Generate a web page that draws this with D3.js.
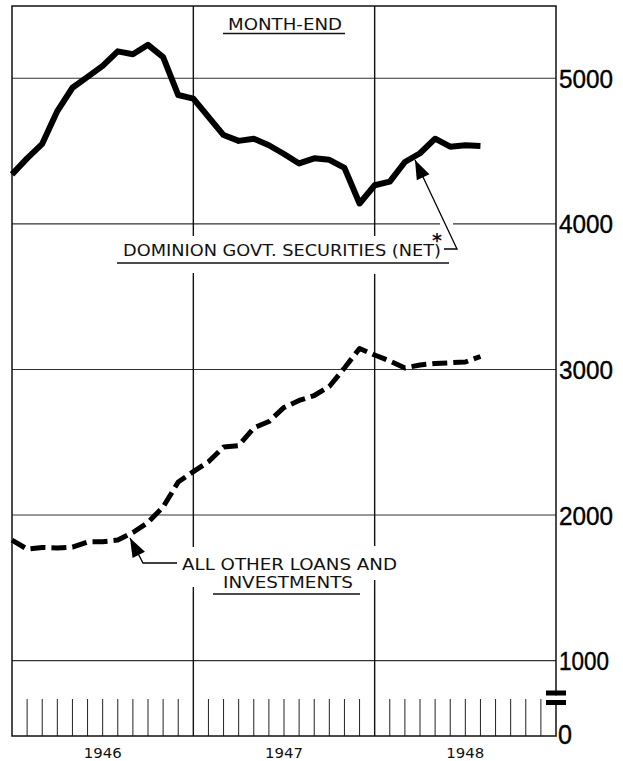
<!DOCTYPE html>
<html>
<head>
<meta charset="utf-8">
<script src="https://cdn.jsdelivr.net/npm/d3@7"></script>
<style>
  html, body { margin: 0; padding: 0; background: #fff; }
  svg { display: block; }
</style>
</head>
<body>
<div id="chart"></div>
<script>
// Chartered banks: month-end holdings, millions of dollars
const months = [
  "Dec 1945",
  "Jan 1946", "Feb 1946", "Mar 1946", "Apr 1946", "May 1946", "Jun 1946",
  "Jul 1946", "Aug 1946", "Sep 1946", "Oct 1946", "Nov 1946", "Dec 1946",
  "Jan 1947", "Feb 1947", "Mar 1947", "Apr 1947", "May 1947", "Jun 1947",
  "Jul 1947", "Aug 1947", "Sep 1947", "Oct 1947", "Nov 1947", "Dec 1947",
  "Jan 1948", "Feb 1948", "Mar 1948", "Apr 1948", "May 1948", "Jun 1948",
  "Jul 1948"
];
const govSecurities = [
  4340, 4450, 4550, 4775, 4935, 5010, 5085, 5185, 5165, 5230, 5145, 4885,
  4860, 4735, 4610, 4570, 4585, 4540, 4480, 4415, 4450, 4440, 4385, 4140,
  4265, 4290, 4425, 4485, 4585, 4530, 4540, 4535
];
const otherLoans = [
  1828, 1766, 1777, 1773, 1780, 1815, 1817, 1828, 1880, 1949, 2055, 2227,
  2298, 2366, 2467, 2477, 2598, 2642, 2739, 2787, 2821, 2883, 3010, 3144,
  3099, 3058, 3010, 3031, 3041, 3046, 3051, 3089
];
const years = ["1946", "1947", "1948"];
const yTicks = [1000, 2000, 3000, 4000, 5000];
const yTickLabels = ["1000", "2000", "3000", "4000", "5000"];

const W = 623, H = 761;
const plotL = 12, plotR = 556, plotT = 6, plotB = 736;

const svg = d3.select("#chart").append("svg")
  .attr("width", W).attr("height", H)
  .attr("viewBox", `0 0 ${W} ${H}`);

svg.append("rect").attr("width", W).attr("height", H).attr("fill", "#fff");

// month index 0 = start of 1946 (end of Dec 1945), 36 = start of 1949
const x = d3.scaleLinear().domain([0, 36]).range([plotL, plotR]);
// broken axis: 1000..5500 on a linear scale, zero pinned to the baseline
const y = d3.scaleLinear().domain([1000, 5500]).range([660.6, 5.5]);

const g = svg.append("g");

// horizontal grid
g.selectAll("line.hgrid").data(yTicks).join("line")
  .attr("class", "hgrid")
  .attr("x1", plotL).attr("x2", plotR)
  .attr("y1", d => y(d)).attr("y2", d => y(d))
  .attr("stroke", "#333").attr("stroke-width", 1.1);

// year dividers
const yearBreaks = [12, 24];
g.selectAll("line.vgrid").data(yearBreaks).join("line")
  .attr("class", "vgrid")
  .attr("x1", d => x(d)).attr("x2", d => x(d))
  .attr("y1", plotT).attr("y2", plotB)
  .attr("stroke", "#111").attr("stroke-width", 1.4);

// month ticks along the base
const monthTicks = d3.range(1, 36).filter(m => m % 12 !== 0);
g.selectAll("line.mtick").data(monthTicks).join("line")
  .attr("class", "mtick")
  .attr("x1", d => x(d)).attr("x2", d => x(d))
  .attr("y1", 699).attr("y2", plotB)
  .attr("stroke", "#222").attr("stroke-width", 1);

// knock-outs where the lettering interrupts the grid
const knock = [
  [190, 236, 8, 37], [372, 236, 8, 38],
  [190, 547, 8, 40], [372, 546, 8, 34],
  [440, 219, 13, 6]
];
g.selectAll("rect.knock").data(knock).join("rect")
  .attr("x", d => d[0]).attr("y", d => d[1])
  .attr("width", d => d[2]).attr("height", d => d[3])
  .attr("fill", "#fff");

// frame
g.append("rect")
  .attr("x", plotL).attr("y", plotT)
  .attr("width", plotR - plotL).attr("height", plotB - plotT)
  .attr("fill", "none").attr("stroke", "#111").attr("stroke-width", 1.5);

// axis break symbol on the right-hand scale
g.append("rect").attr("x", 548).attr("y", 695.5).attr("width", 16).attr("height", 4.5).attr("fill", "#fff");
g.append("rect").attr("x", 546).attr("y", 690.5).attr("width", 20).attr("height", 5).attr("fill", "#000");
g.append("rect").attr("x", 546).attr("y", 700).attr("width", 20).attr("height", 5).attr("fill", "#000");

// right-hand value labels
const valFont = "'Liberation Sans', Arial, sans-serif";
g.selectAll("text.ylab").data(yTicks).join("text")
  .attr("class", "ylab")
  .attr("x", 559).attr("y", d => y(d) + 9.5)
  .attr("font-family", valFont).attr("font-size", 26.5)
  .attr("textLength", (d, i) => yTickLabels[i].startsWith("1") ? 50 : 54)
  .attr("lengthAdjust", "spacingAndGlyphs")
  .attr("stroke", "#000").attr("stroke-width", 0.4)
  .attr("fill", "#000")
  .text((d, i) => yTickLabels[i]);
g.append("text")
  .attr("x", 558).attr("y", 744)
  .attr("font-family", valFont).attr("font-size", 28)
  .attr("textLength", 14).attr("lengthAdjust", "spacingAndGlyphs")
  .attr("stroke", "#000").attr("stroke-width", 0.4)
  .attr("fill", "#000").text("0");

// year labels
const letterFont = "'DejaVu Sans', sans-serif";
g.selectAll("text.year").data(years).join("text")
  .attr("class", "year")
  .attr("x", (d, i) => x(i * 12 + 6)).attr("y", 758)
  .attr("text-anchor", "middle")
  .attr("font-family", letterFont).attr("font-size", 14)
  .attr("textLength", 38).attr("lengthAdjust", "spacingAndGlyphs")
  .attr("fill", "#111").text(d => d);

// series lines
const line = d3.line()
  .x((d, i) => x(i))
  .y(d => y(d));

g.append("path").datum(otherLoans)
  .attr("d", line)
  .attr("fill", "none").attr("stroke", "#000")
  .attr("stroke-width", 5).attr("stroke-dasharray", "15,6")
  .attr("stroke-linejoin", "round");

g.append("path").datum(govSecurities)
  .attr("d", line)
  .attr("fill", "none").attr("stroke", "#000")
  .attr("stroke-width", 6)
  .attr("stroke-linejoin", "round");

// annotations
function arrow(tip, path) {
  const pts = [tip].concat(path);
  g.append("path")
    .attr("d", d3.line()(pts))
    .attr("fill", "none").attr("stroke", "#000").attr("stroke-width", 1.3);
  const dx = path[0][0] - tip[0], dy = path[0][1] - tip[1];
  const len = Math.hypot(dx, dy), ux = dx / len, uy = dy / len;
  const L = 19, hw = 7;
  const bx = tip[0] + ux * L, by = tip[1] + uy * L;
  g.append("path")
    .attr("d", d3.line()([tip, [bx - uy * hw, by + ux * hw], [bx + uy * hw, by - ux * hw]]) + "Z")
    .attr("fill", "#000");
}

function label(txt, cx, base, len, size) {
  g.append("text")
    .attr("x", cx).attr("y", base)
    .attr("text-anchor", "middle")
    .attr("font-family", letterFont).attr("font-size", size || 15.5)
    .attr("textLength", len).attr("lengthAdjust", "spacingAndGlyphs")
    .attr("fill", "#111").text(txt);
}
function underline(x1, x2, yy) {
  g.append("line").attr("x1", x1).attr("x2", x2).attr("y1", yy).attr("y2", yy)
    .attr("stroke", "#111").attr("stroke-width", 1.3);
}

label("MONTH-END", 285, 29.5, 114);
underline(223, 345, 33.5);

label("DOMINION GOVT. SECURITIES (NET)", 282, 256, 318);
underline(117, 449, 263);
g.append("text").attr("x", 437).attr("y", 247)
  .attr("text-anchor", "middle")
  .attr("font-family", letterFont).attr("font-size", 19).attr("font-weight", "bold")
  .attr("fill", "#111").text("*");
arrow([415, 160], [[457, 249], [444, 249]]);

label("ALL OTHER LOANS AND", 289.5, 569.5, 215);
label("INVESTMENTS", 288, 588, 130);
underline(213, 360, 594);
arrow([130, 538], [[143, 563], [177, 563]]);
</script>
</body>
</html>
